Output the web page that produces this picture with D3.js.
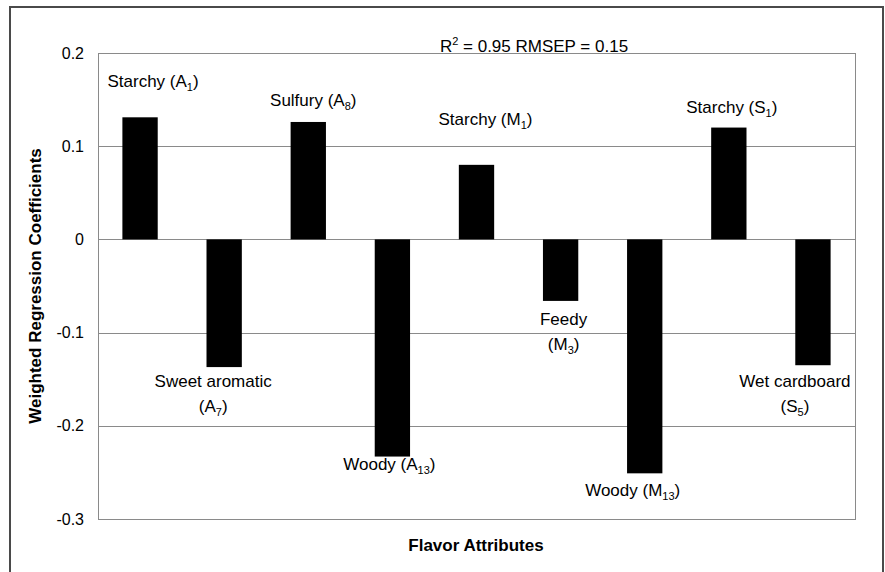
<!DOCTYPE html>
<html>
<head>
<meta charset="utf-8">
<script src="https://cdn.jsdelivr.net/npm/d3@7"></script>
<style>
  html, body { margin: 0; padding: 0; background: #fff; }
  svg { display: block; font-family: "Liberation Sans", Arial, sans-serif; }
</style>
</head>
<body>
<svg id="chart" width="885" height="572"></svg>
<script>
// Flavor attribute codes and their weighted regression coefficients
const attributes = ["A1", "A7", "A8", "A13", "M1", "M3", "M13", "S1", "S5"];
const coefficients = [0.131, -0.137, 0.126, -0.233, 0.080, -0.066, -0.251, 0.120, -0.135];

// Label text: descriptor lines and the subscripted attribute code
const labelNames = ["Starchy", "Sweet aromatic", "Sulfury", "Woody", "Starchy", "Feedy", "Woody", "Starchy", "Wet cardboard"];
const labelLetters = ["A", "A", "A", "A", "M", "M", "M", "S", "S"];
const labelNumbers = ["1", "7", "8", "13", "1", "3", "13", "1", "5"];
const labelTwoLines = [false, true, false, false, false, true, false, false, true];

// Label placement relative to each bar's end: [dx, dy] in px
const labelOffsets = [[13, -30], [-11, 20], [5, -16], [-3, 13], [9, -40], [3, 24], [-12, 23], [3, -15], [-18, 22]];

const yTicks = [0.2, 0.1, 0, -0.1, -0.2, -0.3];
const fitStats = { r2: "0.95", rmsep: "0.15" };

const svg = d3.select("#chart");
const margin = { left: 98, top: 53, right: 855, bottom: 519 };
const FS = 17;

// outer frame
svg.append("rect")
  .attr("x", 10).attr("y", 7).attr("width", 873).attr("height", 580)
  .attr("fill", "none").attr("stroke", "#4a4a4a").attr("stroke-width", 2);

const x = d3.scaleBand().domain(attributes).range([margin.left, margin.right]).paddingInner(0.58).paddingOuter(0.29);
const y = d3.scaleLinear().domain([-0.3, 0.2]).range([margin.bottom, margin.top]);

// gridlines
svg.append("g").selectAll("line").data(yTicks).join("line")
  .attr("x1", margin.left).attr("x2", margin.right)
  .attr("y1", d => Math.round(y(d)) + 0.5).attr("y2", d => Math.round(y(d)) + 0.5)
  .attr("stroke", "#8a8a8a").attr("stroke-width", 1);

// plot area border
svg.append("rect")
  .attr("x", margin.left + 0.5).attr("y", Math.round(y(0.2)) + 0.5)
  .attr("width", margin.right - margin.left).attr("height", Math.round(y(-0.3)) - Math.round(y(0.2)))
  .attr("fill", "none").attr("stroke", "#8a8a8a").attr("stroke-width", 1);

// y axis tick labels (plain hyphen for negatives)
const yAxis = d3.axisLeft(y).tickValues(yTicks).tickSize(0).tickPadding(14)
  .tickFormat(d => d === 0 ? "0" : d.toFixed(1));
const yg = svg.append("g").attr("transform", `translate(${margin.left},0)`).call(yAxis);
yg.select(".domain").remove();
yg.selectAll("text").attr("font-size", 16).attr("fill", "#000").attr("font-family", "Liberation Sans, Arial, sans-serif");

// bars
svg.append("g").selectAll("rect").data(attributes).join("rect")
  .attr("x", d => x(d))
  .attr("width", x.bandwidth())
  .attr("y", (d, i) => y(Math.max(0, coefficients[i])))
  .attr("height", (d, i) => Math.abs(y(coefficients[i]) - y(0)))
  .attr("fill", "#000");

// bar labels
attributes.forEach((a, i) => {
  const v = coefficients[i];
  const cx = x(a) + x.bandwidth() / 2 + labelOffsets[i][0];
  const by = y(v) + labelOffsets[i][1];
  const g = svg.append("g").attr("font-size", FS).attr("fill", "#000");
  const code = (t) => {
    t.append("tspan").text("(" + labelLetters[i]);
    t.append("tspan").attr("font-size", 11).attr("dy", 4).text(labelNumbers[i]);
    t.append("tspan").attr("dy", -4).text(")");
  };
  if (labelTwoLines[i]) {
    g.append("text").attr("x", cx).attr("y", by).attr("text-anchor", "middle").text(labelNames[i]);
    code(g.append("text").attr("x", cx).attr("y", by + 25).attr("text-anchor", "middle"));
  } else {
    const t = g.append("text").attr("x", cx).attr("y", by).attr("text-anchor", "middle");
    t.append("tspan").text(labelNames[i] + " ");
    code(t);
  }
});

// fit statistics
const st = svg.append("text").attr("x", 534).attr("y", 52).attr("text-anchor", "middle").attr("font-size", FS);
st.append("tspan").text("R");
st.append("tspan").attr("font-size", 11).attr("dy", -7).text("2");
st.append("tspan").attr("dy", 7).text(" = " + fitStats.r2 + " RMSEP = " + fitStats.rmsep);

// axis titles
svg.append("text").attr("x", 476).attr("y", 551).attr("text-anchor", "middle")
  .attr("font-size", FS).attr("font-weight", "bold").text("Flavor Attributes");
svg.append("text").attr("transform", `translate(41,${(margin.top + margin.bottom) / 2}) rotate(-90)`)
  .attr("text-anchor", "middle").attr("font-size", FS).attr("font-weight", "bold")
  .text("Weighted Regression Coefficients");
</script>
</body>
</html>
